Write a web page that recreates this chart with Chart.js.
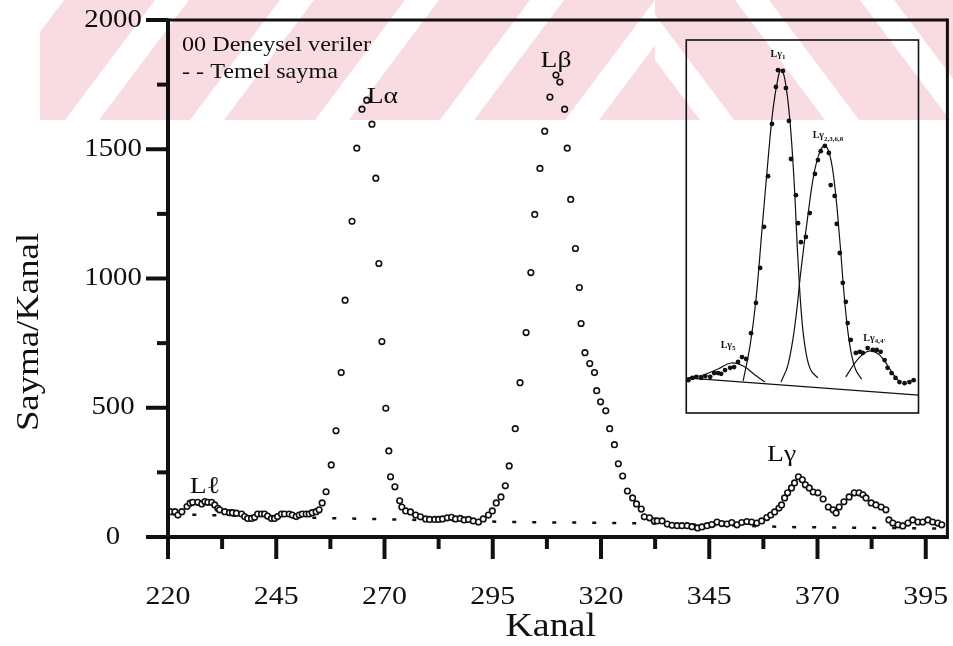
<!DOCTYPE html>
<html>
<head>
<meta charset="utf-8">
<script src="https://cdn.jsdelivr.net/npm/chart.js@4.4.0/dist/chart.umd.min.js"></script>
<style>
    html, body { margin: 0; padding: 0; background: #fff; }
    #ana { display: block; background: #fff; }
</style>
</head>
<body>
<canvas id="ana" width="953" height="646"></canvas>
<script>
// Deneysel veriler (kanal, sayma)
const kanal = [
    220.5, 221.6, 222.3, 223.2, 224.4, 225.1, 225.7, 226.9, 227.8, 228.5, 229.2, 230.1, 230.8, 231.5, 231.9,
    233.1, 234.2, 234.9, 235.8, 237.0, 237.7, 238.4, 239.3, 240.0, 240.7, 241.6, 242.3, 243.0, 243.9, 244.6,
    245.3, 246.2, 246.9, 248.0, 248.7, 249.6, 250.3, 251.0, 251.9, 252.6, 253.3, 254.2, 254.9, 255.6, 256.5,
    257.7, 258.8, 260.0, 260.9, 262.5, 263.6, 264.8, 265.9, 267.1, 268.0, 268.7, 269.4, 270.3, 271.0, 271.4,
    272.4, 273.5, 274.0, 274.9, 276.0, 277.2, 278.3, 279.5, 280.4, 281.6, 282.5, 283.4, 284.5, 285.5, 286.4,
    287.5, 288.4, 289.4, 290.5, 291.7, 292.8, 294.0, 294.9, 295.8, 296.9, 297.9, 298.8, 300.2, 301.3, 302.7,
    303.8, 304.7, 305.9, 307.0, 308.2, 309.6, 310.5, 311.6, 312.2, 313.0, 314.1, 315.0, 315.4, 316.3, 317.4,
    318.5, 319.0, 319.9, 321.1, 322.0, 323.1, 324.0, 325.0, 326.1, 327.3, 328.2, 329.3, 330.0, 331.2, 332.3,
    333.0, 334.1, 335.3, 336.4, 337.6, 338.7, 339.9, 341.0, 342.3, 343.3, 344.5, 345.6, 346.8, 347.9, 349.1,
    350.2, 351.4, 352.5, 353.7, 354.8, 356.0, 357.1, 358.3, 359.2, 360.1, 361.1, 361.7, 362.4, 363.1, 364.0,
    364.7, 365.6, 366.5, 367.2, 368.1, 369.0, 370.1, 371.3, 372.5, 373.6, 374.3, 375.0, 376.1, 377.3, 378.5,
    379.6, 380.5, 381.2, 382.4, 383.5, 384.7, 385.8, 386.5, 387.4, 388.6, 389.7, 390.9, 392.0, 393.2, 394.3,
    395.5, 396.6, 397.8, 398.7
];
const sayma = [
    98, 98, 85, 98, 118, 131, 134, 134, 128, 137, 134, 134, 124, 111, 105,
    98, 94, 94, 92, 89, 79, 72, 72, 76, 89, 89, 89, 81, 72, 72,
    79, 89, 89, 89, 85, 79, 85, 89, 89, 89, 94, 98, 105, 132, 175,
    279, 411, 636, 916, 1221, 1504, 1655, 1690, 1597, 1388, 1058, 756, 498, 333, 233,
    194, 140, 116, 101, 97, 85, 78, 70, 68, 68, 68, 70, 74, 76, 70,
    72, 66, 68, 62, 58, 70, 85, 101, 132, 155, 198, 275, 419, 597, 791,
    1023, 1248, 1426, 1570, 1702, 1787, 1760, 1655, 1504, 1306, 1116, 965, 826, 713, 671,
    636, 566, 523, 488, 419, 357, 283, 236, 178, 151, 128, 108, 78, 74, 62,
    62, 62, 50, 45, 44, 44, 44, 40, 35, 39, 44, 48, 58, 52, 50,
    56, 47, 56, 60, 58, 54, 62, 75, 85, 97, 112, 124, 151, 171, 190,
    209, 233, 221, 202, 190, 174, 171, 147, 116, 105, 93, 116, 136, 155, 171,
    171, 163, 151, 132, 124, 116, 105, 66, 54, 47, 43, 54, 66, 58, 58,
    66, 58, 54, 47
];

// Temel sayma (kesikli cizgi)
const temelKanal = [221, 240, 260, 300, 330, 365, 398];
const temelSayma = [88, 80, 72, 58, 53, 38, 33];

// Eksen etiketleri
const xEtiketler = [220, 245, 270, 295, 320, 345, 370, 395];
const xAraCizgiler = [232.5, 257.5, 282.5, 307.5, 332.5, 357.5, 382.5];
const yEtiketler = [0, 500, 1000, 1500, 2000];
const yAraCizgiler = [250, 750, 1250, 1750];

// Pik adlari
const pikAdlari = ['L\u2113', 'L\u03b1', 'L\u03b2', 'L\u03b3'];
const pikKanal = [228.5, 269.5, 309.6, 361.7];
const pikSayma = [194, 1705, 1841, 318];

// Ic grafik (L gamma bolgesi, keyfi birimler 0-100)
const ekU = [0.9, 2.6, 4.3, 6.4, 8.2, 10.3, 12.0, 13.7, 15.0, 16.7, 18.9, 20.6, 22.3, 24.0, 25.8,
    27.9, 30.0, 31.8, 33.5, 35.2, 36.9, 38.6, 39.5, 41.6, 42.9, 44.2, 45.1, 47.2, 48.1, 49.4,
    51.5, 53.2, 55.4, 56.7, 57.9, 59.7, 61.4, 62.2, 63.9, 64.8, 66.1, 67.4, 68.7, 69.5, 70.8,
    73.0, 74.7, 76.0, 78.1, 80.3, 82.0, 83.7, 85.4, 86.7, 88.4, 90.1, 91.8, 94.0, 96.1, 97.9];
const ekV = [8.8, 9.4, 9.7, 9.4, 9.9, 9.7, 10.7, 10.7, 10.5, 11.5, 12.1, 12.3, 13.7, 15.0, 14.5,
    21.4, 29.5, 38.9, 49.9, 63.5, 77.5, 87.4, 91.9, 91.7, 87.1, 78.3, 68.1, 58.4, 50.9, 45.8,
    47.2, 53.6, 64.1, 67.8, 70.2, 71.6, 69.7, 61.1, 58.2, 50.7, 42.9, 34.9, 29.8, 24.1, 19.6,
    16.1, 16.4, 16.1, 17.4, 16.9, 16.9, 16.4, 14.2, 12.1, 10.7, 9.4, 8.3, 8.0, 8.3, 8.8];
const zeminU = [0, 100];
const zeminV = [9.4, 4.8];
const g5U = [0.9, 7.3, 13.7, 19.3, 24.5, 29.6, 33.9];
const g5V = [9.4, 10.2, 11.8, 13.4, 12.6, 10.2, 8.3];
const g1U = [24.5, 27.5, 30.0, 32.6, 35.2, 37.3, 39.5, 40.8, 42.5, 44.6, 46.4, 48.1, 49.8, 51.5, 53.6, 56.7];
const g1V = [8.6, 18.2, 30.3, 49.1, 67.8, 81.2, 89.8, 92.0, 89.3, 78.6, 62.5, 41.0, 24.9, 16.4, 11.5, 9.4];
const g2U = [40.8, 43.8, 46.8, 49.4, 52.4, 54.9, 57.5, 59.7, 61.8, 63.9, 66.1, 67.8, 69.5, 71.2, 73.0, 75.5];
const g2V = [8.3, 12.9, 23.6, 38.3, 53.1, 63.8, 70.0, 71.6, 69.2, 61.1, 46.4, 33.0, 22.3, 15.5, 11.5, 9.1];
const g4U = [68.7, 71.7, 74.7, 77.7, 80.3, 83.3, 86.3, 89.3, 92.3];
const g4V = [9.7, 12.6, 15.0, 16.4, 16.6, 15.5, 13.1, 10.2, 8.0];

// yerlesim (piksel)
const alan = { sol: 168, sag: 950, ust: 20, alt: 537 };
const kutu = { sol: 688, sag: 921, ust: 40, alt: 413 };

// ic grafigin eksen sinirlari, kutu ana cizim alaninin icinde kalacak sekilde
const xiR = 100 * (alan.sag - alan.sol) / (kutu.sag - kutu.sol);
const xiMin = -(kutu.sol - alan.sol) / (alan.sag - alan.sol) * xiR;
const yiR = 100 * (alan.alt - alan.ust) / (kutu.alt - kutu.ust);
const yiMin = -(alan.alt - kutu.alt) / (alan.alt - alan.ust) * yiR;

const SERIF = '"Liberation Serif", "Times New Roman", serif';
const nokta = (xs, ys) => xs.map((x, i) => ({ x: x, y: ys[i] }));

function yazi(ctx, text, x, y, size, align = 'center', sx = 1.15) {
    ctx.save();
    ctx.translate(x, y);
    ctx.scale(sx, 1);
    ctx.font = `${size}px ${SERIF}`;
    ctx.textAlign = align;
    ctx.textBaseline = 'middle';
    ctx.fillStyle = '#111';
    ctx.fillText(text, 0, 0);
    ctx.restore();
}

function altIndisli(ctx, x, y, ana, alt) {
    ctx.save();
    ctx.fillStyle = '#111';
    ctx.textBaseline = 'middle';
    ctx.font = `bold 10px ${SERIF}`;
    const w1 = ctx.measureText(ana).width;
    ctx.font = `bold 7px ${SERIF}`;
    const w2 = ctx.measureText(alt).width;
    const x0 = x - (w1 + w2) / 2;
    ctx.font = `bold 10px ${SERIF}`;
    ctx.fillText(ana, x0, y);
    ctx.font = `bold 7px ${SERIF}`;
    ctx.fillText(alt, x0 + w1, y + 3);
    ctx.restore();
}

function cizgi(ctx, x1, y1, x2, y2) {
    ctx.beginPath();
    ctx.moveTo(x1, y1);
    ctx.lineTo(x2, y2);
    ctx.stroke();
}

// tarama filigrani (ust bant): pembe seritler, carpma ile bindirilir
function seritler(ctx) {
    ctx.save();
    ctx.fillStyle = '#f9dce1';
    ctx.globalCompositeOperation = 'multiply';
    // sol kisim: "/" yonlu
    ctx.save();
    ctx.beginPath(); ctx.rect(40, 0, 615, 120); ctx.clip();
    for (let x0 = -26; x0 < 700; x0 += 125) {
        ctx.beginPath();
        ctx.moveTo(x0, 120); ctx.lineTo(x0 + 91, 120);
        ctx.lineTo(x0 + 181, 0); ctx.lineTo(x0 + 90, 0);
        ctx.fill();
    }
    ctx.restore();
    // sag kisim: "\" yonlu
    ctx.beginPath(); ctx.rect(655, 0, 298, 120); ctx.clip();
    for (let x0 = 519; x0 < 1100; x0 += 125) {
        ctx.beginPath();
        ctx.moveTo(x0, 0); ctx.lineTo(x0 + 91, 0);
        ctx.lineTo(x0 + 181, 120); ctx.lineTo(x0 + 90, 120);
        ctx.fill();
    }
    ctx.restore();
}

const filigran = {
    id: 'filigran',
    afterDraw(chart) {
        seritler(chart.ctx);
    }
};

const eksenler = {
    id: 'eksenler',
    afterDraw(chart) {
        const { ctx, scales: { x, y, xi, yi } } = chart;
        const sol = x.getPixelForValue(220), sag = x.getPixelForValue(400);
        const alt = y.getPixelForValue(0), ust = y.getPixelForValue(2000);
        ctx.save();
        ctx.strokeStyle = '#111';
        ctx.lineWidth = 3;
        cizgi(ctx, sol, ust, sag, ust);
        cizgi(ctx, sag, ust - 1.5, sag, alt);
        ctx.lineWidth = 4;
        cizgi(ctx, sol, ust - 1.5, sol, alt + 2);
        cizgi(ctx, sol - 2, alt, sag + 1.5, alt);

        xEtiketler.forEach(v => {
            const px = x.getPixelForValue(v);
            cizgi(ctx, px, alt, px, alt + 22);
            yazi(ctx, String(v), px, alt + 60, 26);
        });
        xAraCizgiler.forEach(v => {
            const px = x.getPixelForValue(v);
            cizgi(ctx, px, alt, px, alt + 12);
        });
        yEtiketler.forEach(v => {
            const py = y.getPixelForValue(v);
            cizgi(ctx, sol - 22, py, sol, py);
            yazi(ctx, String(v), 113, py, 25);
        });
        yAraCizgiler.forEach(v => {
            const py = y.getPixelForValue(v);
            cizgi(ctx, sol - 11, py, sol, py);
        });

        // eksen basliklari
        ctx.save();
        ctx.translate(30, 332);
        ctx.rotate(-Math.PI / 2);
        yazi(ctx, 'Sayma/Kanal', 0, 0, 32);
        ctx.restore();
        yazi(ctx, 'Kanal', (sol + sag) / 2 - 7, 627, 33);

        // aciklama
        yazi(ctx, '00 Deneysel veriler', 182, 45, 21, 'left');
        yazi(ctx, '- - Temel sayma', 182, 72, 21, 'left');

        // pik adlari
        pikAdlari.forEach((ad, i) => {
            yazi(ctx, ad, x.getPixelForValue(pikKanal[i]), y.getPixelForValue(pikSayma[i]), 24);
        });

        // ic grafik cercevesi ve etiketleri
        const k0 = xi.getPixelForValue(0), k1 = xi.getPixelForValue(100);
        const k2 = yi.getPixelForValue(100), k3 = yi.getPixelForValue(0);
        ctx.lineWidth = 1.6;
        ctx.strokeRect(k0, k2, k1 - k0, k3 - k2);
        altIndisli(ctx, xi.getPixelForValue(39.5), yi.getPixelForValue(96.2), 'L\u03b3', '1');
        altIndisli(ctx, xi.getPixelForValue(61), yi.getPixelForValue(74.3), 'L\u03b3', '2,3,6,8');
        altIndisli(ctx, xi.getPixelForValue(18), yi.getPixelForValue(18.2), 'L\u03b3', '5');
        altIndisli(ctx, xi.getPixelForValue(81), yi.getPixelForValue(20.1), 'L\u03b3', "4,4'");
        ctx.restore();
    }
};

const egri = (xs, ys) => ({
    type: 'line',
    data: nokta(xs, ys),
    xAxisID: 'xi',
    yAxisID: 'yi',
    borderColor: '#111',
    borderWidth: 1.2,
    pointRadius: 0,
    tension: 0.4,
    fill: false
});

new Chart(document.getElementById('ana'), {
    type: 'scatter',
    data: {
        datasets: [
            {
                label: 'Deneysel veriler',
                data: nokta(kanal, sayma),
                pointStyle: 'circle',
                pointRadius: 2.8,
                borderWidth: 1.6,
                borderColor: '#111',
                backgroundColor: '#fff'
            },
            {
                label: 'Temel sayma',
                type: 'line',
                data: nokta(temelKanal, temelSayma),
                borderColor: '#111',
                borderWidth: 2.5,
                borderDash: [4, 16],
                pointRadius: 0,
                fill: false,
                tension: 0
            },
            {
                label: 'L gamma',
                data: nokta(ekU, ekV),
                xAxisID: 'xi',
                yAxisID: 'yi',
                pointRadius: 2.4,
                borderWidth: 0,
                backgroundColor: '#111'
            },
            { ...egri(zeminU, zeminV), tension: 0 },
            egri(g5U, g5V),
            egri(g1U, g1V),
            egri(g2U, g2V),
            egri(g4U, g4V)
        ]
    },
    options: {
        responsive: false,
        animation: false,
        layout: {
            padding: { left: alan.sol, right: 953 - alan.sag, top: alan.ust, bottom: 646 - alan.alt }
        },
        scales: {
            x: { type: 'linear', min: 220, max: 400, display: false },
            y: { type: 'linear', min: 0, max: 2000, display: false },
            xi: { axis: 'x', type: 'linear', min: xiMin, max: xiMin + xiR, display: false },
            yi: { axis: 'y', type: 'linear', min: yiMin, max: yiMin + yiR, display: false }
        },
        plugins: { legend: { display: false }, tooltip: { enabled: false } }
    },
    plugins: [eksenler, filigran]
});
</script>
</body>
</html>
